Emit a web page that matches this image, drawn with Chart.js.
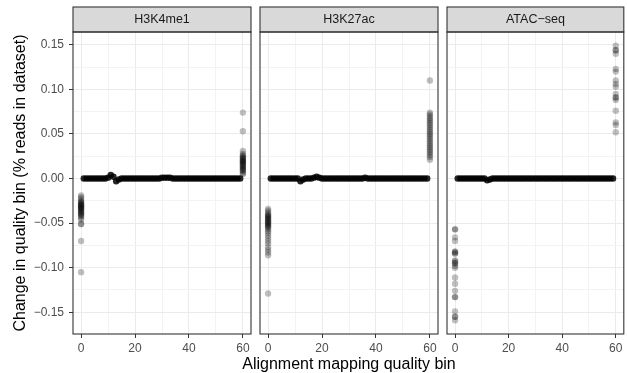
<!DOCTYPE html>
<html>
<head>
<meta charset="utf-8">
<script src="https://cdn.jsdelivr.net/npm/chart.js@4.4.0/dist/chart.umd.min.js"></script>
<style>
  html, body { margin: 0; padding: 0; background: #fff; }
  #wrap { position: relative; width: 627px; height: 373px; }
  #wrap canvas { position: absolute; left: 0; top: 0; }
</style>
</head>
<body>
<div id="wrap">
  <canvas id="c0" width="627" height="373"></canvas>
  <canvas id="c1" width="627" height="373"></canvas>
  <canvas id="c2" width="627" height="373"></canvas>
</div>
<script>
const panels = ['H3K4me1', 'H3K27ac', 'ATAC−seq'];
const lowBin = 0;
const highBin = 60;
const midBins = [1, 2, 3, 4, 5, 6, 7, 8, 9, 10, 11, 12, 13, 14, 15, 16, 17, 18, 19, 20,
  21, 22, 23, 24, 25, 26, 27, 28, 29, 30, 31, 32, 33, 34, 35, 36, 37, 38, 39, 40,
  41, 42, 43, 44, 45, 46, 47, 48, 49, 50, 51, 52, 53, 54, 55, 56, 57, 58, 59];

// H3K4me1
const h3k4me1Mid = [0, 0, 0, 0, 0, 0, 0, 0, 0, 0.001,
  0.004, 0.002, -0.003, -0.001, 0, 0, 0, 0, 0, 0,
  0, 0, 0, 0, 0, 0, 0, 0, 0, 0.001,
  0.001, 0.001, 0.001, 0, 0, 0, 0, 0, 0, 0,
  0, 0, 0, 0, 0, 0, 0, 0, 0, 0,
  0, 0, 0, 0, 0, 0, 0, 0, 0];
const h3k4me1Bin0 = [-0.019, -0.021, -0.023, -0.025, -0.026, -0.027, -0.028, -0.029, -0.030, -0.030,
  -0.031, -0.032, -0.033, -0.033, -0.034, -0.035, -0.036, -0.037, -0.038, -0.039,
  -0.040, -0.041, -0.042, -0.044, -0.046, -0.051, -0.051, -0.070, -0.105];
const h3k4me1Bin60 = [0.074, 0.053, 0.031, 0.028, 0.026, 0.025, 0.024, 0.023, 0.022, 0.021,
  0.020, 0.019, 0.019, 0.018, 0.017, 0.016, 0.015, 0.014, 0.013, 0.012,
  0.011, 0.010, 0.009, 0.008, 0.006, 0.005];

// H3K27ac
const h3k27acMid = [0, 0, 0, 0, 0, 0, 0, 0, 0, 0,
  0, -0.003, -0.001, 0, 0, 0, 0.001, 0.002, 0.001, 0,
  0, 0, 0, 0, 0, 0, 0, 0, 0, 0,
  0, 0, 0, 0, 0, 0.001, 0, 0, 0, 0,
  0, 0, 0, 0, 0, 0, 0, 0, 0, 0,
  0, 0, 0, 0, 0, 0, 0, 0, 0];
const h3k27acBin0 = [-0.034, -0.036, -0.038, -0.040, -0.041, -0.042, -0.043, -0.044, -0.045, -0.046,
  -0.047, -0.048, -0.049, -0.050, -0.051, -0.052, -0.053, -0.054, -0.055, -0.057,
  -0.059, -0.061, -0.064, -0.067, -0.070, -0.073, -0.077, -0.080, -0.083, -0.086, -0.129];
const h3k27acBin60 = [0.110, 0.074, 0.072, 0.070, 0.068, 0.066, 0.064, 0.062, 0.060, 0.058,
  0.056, 0.054, 0.052, 0.050, 0.048, 0.046, 0.044, 0.042, 0.040, 0.038,
  0.036, 0.034, 0.032, 0.030, 0.028, 0.026, 0.024, 0.021];

// ATAC-seq
const atacMid = [0, 0, 0, 0, 0, 0, 0, 0, 0, 0,
  0, -0.002, -0.001, 0, 0, 0, 0, 0, 0, 0,
  0, 0, 0, 0, 0, 0, 0, 0, 0, 0,
  0, 0, 0, 0, 0, 0, 0, 0, 0, 0,
  0, 0, 0, 0, 0, 0, 0, 0, 0, 0,
  0, 0, 0, 0, 0, 0, 0, 0, 0];
const atacBin0 = [-0.057, -0.057, -0.066, -0.070, -0.082, -0.082, -0.084, -0.084, -0.092, -0.093,
  -0.095, -0.095, -0.098, -0.100, -0.111, -0.118, -0.126, -0.133, -0.133, -0.149,
  -0.155, -0.155, -0.159];
const atacBin60 = [0.149, 0.144, 0.144, 0.140, 0.123, 0.120, 0.110, 0.106, 0.103, 0.095,
  0.091, 0.091, 0.088, 0.076, 0.063, 0.060, 0.052];

const xTicks = [0, 20, 40, 60];
const xMinor = [10, 30, 50];
const yTicks = [-0.15, -0.10, -0.05, 0, 0.05, 0.10, 0.15];
const yMinor = [-0.125, -0.075, -0.025, 0.025, 0.075, 0.125];
const xTitle = 'Alignment mapping quality bin';
const yTitle = 'Change in quality bin (% reads in dataset)';

const series = [
  [h3k4me1Mid, h3k4me1Bin0, h3k4me1Bin60],
  [h3k27acMid, h3k27acBin0, h3k27acBin60],
  [atacMid, atacBin0, atacBin60]
];

// shared scales, ggplot style 5% expansion
const allY = series.flat(2);
const yLo = Math.min(...allY), yHi = Math.max(...allY);
const yPad = (yHi - yLo) * 0.05;
const xPad = (highBin - lowBin) * 0.05;

const panelLeft = [73, 260, 447];
const panelW = 178;
const stripTop = 7, plotTop = 32;
const FONT = '"Liberation Sans", Arial, Helvetica, sans-serif';

// facet strip + panel border (+ the shared x title, which chart.js would squeeze to one panel)
const stripPlugin = {
  id: 'strip',
  afterDraw(chart, args, opts) {
    const { ctx, chartArea: a } = chart;
    const w = a.right - a.left;
    ctx.save();
    ctx.fillStyle = '#D9D9D9';
    ctx.fillRect(a.left, stripTop, w, a.top - stripTop);
    ctx.strokeStyle = '#333333';
    ctx.lineWidth = 1.1;
    ctx.strokeRect(a.left, stripTop, w, a.top - stripTop);
    ctx.strokeRect(a.left, a.top, w, a.bottom - a.top);
    ctx.fillStyle = '#1A1A1A';
    ctx.font = '12.5px ' + FONT;
    ctx.textAlign = 'center';
    ctx.textBaseline = 'middle';
    ctx.fillText(opts.label, a.left + w / 2, (stripTop + a.top) / 2 + 0.5);
    if (opts.title) {
      ctx.fillStyle = '#000000';
      ctx.font = '16px ' + FONT;
      ctx.textBaseline = 'alphabetic';
      ctx.fillText(opts.title, a.left + w / 2, 369);
    }
    ctx.restore();
  }
};

const isMajorX = v => xTicks.includes(v);
const isMajorY = v => yTicks.includes(v);
const fmtY = v => (v < 0 ? '−' : '') + Math.abs(v).toFixed(2);

function makeChart(i) {
  const [mid, bin0, bin60] = series[i];
  const first = i === 0;
  const pt = (color) => ({
    pointBackgroundColor: color, pointBorderWidth: 0, pointRadius: 3.2, pointHoverRadius: 3.2
  });
  new Chart(document.getElementById('c' + i), {
    type: 'scatter',
    data: { datasets: [
      { data: midBins.map((b, k) => ({ x: b, y: mid[k] })), ...pt('rgba(0,0,0,0.85)') },
      { data: bin0.map(v => ({ x: lowBin, y: v })), ...pt('rgba(0,0,0,0.25)') },
      { data: bin60.map(v => ({ x: highBin, y: v })), ...pt('rgba(0,0,0,0.25)') }
    ]},
    options: {
      responsive: false,
      animation: false,
      events: [],
      layout: { padding: {
        left: first ? 0 : panelLeft[i],
        right: 627 - panelLeft[i] - panelW,
        top: plotTop, bottom: 0
      }},
      plugins: {
        legend: { display: false },
        tooltip: { enabled: false },
        strip: { label: panels[i], title: i === 1 ? xTitle : null }
      },
      scales: {
        x: {
          type: 'linear',
          min: lowBin - xPad, max: highBin + xPad,
          afterBuildTicks: s => { s.ticks = [...xTicks, ...xMinor].sort((a, b) => a - b).map(v => ({ value: v })); },
          afterFit: s => { s.height = 39; },
          border: { display: false },
          grid: {
            color: c => isMajorX(c.tick.value) ? '#EBEBEB' : '#F3F3F3',
            lineWidth: 1,
            tickColor: c => isMajorX(c.tick.value) ? '#333333' : 'rgba(0,0,0,0)',
            tickLength: 4, tickWidth: 1
          },
          ticks: {
            autoSkip: false, maxRotation: 0, padding: 3,
            color: '#4D4D4D', font: { family: FONT, size: 12 },
            callback: v => isMajorX(v) ? String(v) : ''
          }
        },
        y: {
          type: 'linear',
          min: yLo - yPad, max: yHi + yPad,
          afterBuildTicks: s => { s.ticks = [...yTicks, ...yMinor].sort((a, b) => a - b).map(v => ({ value: v })); },
          afterFit: s => { s.width = first ? panelLeft[0] : 0; },
          border: { display: false },
          grid: {
            color: c => isMajorY(c.tick.value) ? '#EBEBEB' : '#F3F3F3',
            lineWidth: 1,
            drawTicks: first,
            tickColor: c => isMajorY(c.tick.value) ? '#333333' : 'rgba(0,0,0,0)',
            tickLength: 4, tickWidth: 1
          },
          ticks: {
            display: first, autoSkip: false, padding: 5,
            color: '#4D4D4D', font: { family: FONT, size: 12 },
            callback: v => isMajorY(v) ? fmtY(v) : ''
          },
          title: {
            display: first, text: yTitle, color: '#000000',
            font: { family: FONT, size: 16 }, padding: { top: 11, bottom: 0 }
          }
        }
      }
    },
    plugins: [stripPlugin]
  });
}

[0, 1, 2].forEach(makeChart);
</script>
</body>
</html>
